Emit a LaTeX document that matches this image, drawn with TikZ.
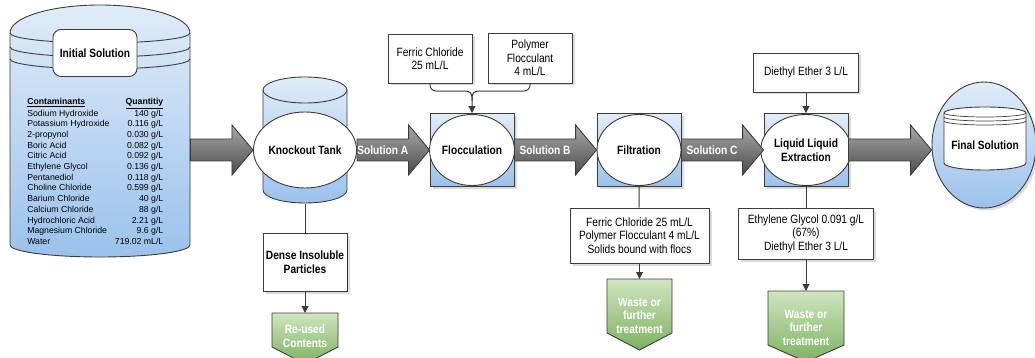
\documentclass[tikz,border=0pt]{standalone}
\usepackage{fontspec}
\setmainfont{Liberation Sans}
\newfontfamily\narrowfont[FakeStretch=0.85]{Liberation Sans}
\usetikzlibrary{arrows.meta,shapes.geometric,shadows,calc,positioning}

\definecolor{edge}{RGB}{60,60,60}
\definecolor{bluetop}{RGB}{224,236,249}
\definecolor{bluebot}{RGB}{155,194,236}
\definecolor{greentop}{RGB}{208,229,192}
\definecolor{greenbot}{RGB}{124,178,96}
\definecolor{arrowtop}{RGB}{168,168,168}
\definecolor{arrowbot}{RGB}{76,76,76}

% grey block arrow between two nodes
\newcommand{\flowarrow}[3]{%
  \draw[flow] let \p1=(#1.east), \p2=(#2.west) in
    (\x1,\y1+11pt) -- (\x2-21pt,\y1+11pt) -- (\x2-21pt,\y1+25pt) -- (\x2,\y1)
    -- (\x2-21pt,\y1-25pt) -- (\x2-21pt,\y1-11pt) -- (\x1,\y1-11pt) -- cycle
    node[flowlabel] at ({(\x1+\x2)/2-10.5pt},\y1) {#3};
}
% green outlet: name, x, top, half width, body height, text
\newcommand{\outlet}[6]{%
  \draw[waste] (#2-#4,#3) -- (#2+#4,#3) -- (#2+#4,#3+#5) -- (#2,#3+#5+17)
    -- (#2-#4,#3+#5) -- cycle;
  \coordinate (#1) at (#2,#3);
  \node[wastetext] at (#2,#3+#5*0.68) {#6};
}

\begin{document}
\begin{tikzpicture}[x=1pt,y=-1pt,>={Triangle[length=7pt,width=7pt]},semithick]
  \tikzstyle{lbl}=[font=\narrowfont\fontsize{12}{13.5}\selectfont,align=center]
  \tikzstyle{lblb}=[font=\narrowfont\bfseries\fontsize{12}{13.5}\selectfont,align=center]
  \tikzstyle{shade drop}=[drop shadow={shadow xshift=2.5pt,shadow yshift=-2.5pt,fill=black!28}]
  \tikzstyle{box}=[lbl,draw=edge,fill=white,line width=0.9pt,inner sep=2pt,shade drop]
  \tikzstyle{proc}=[draw=edge,line width=0.9pt,top color=bluetop,bottom color=bluebot,
                    minimum width=84,minimum height=73,inner sep=0,shade drop]
  \tikzstyle{core}=[lblb,ellipse,draw=edge,fill=white,line width=0.9pt,
                    minimum width=84,minimum height=71,inner sep=0]
  \tikzstyle{tank}=[draw=edge,line width=0.9pt,top color=bluetop,bottom color=bluebot]
  \tikzstyle{conn}=[draw=edge,line width=1pt]
  \tikzstyle{flow}=[draw=edge,line width=0.9pt,top color=arrowtop,bottom color=arrowbot]
  \tikzstyle{flowlabel}=[lblb,text=white]
  \tikzstyle{waste}=[draw=edge,line width=0.9pt,top color=greentop,bottom color=greenbot]
  \tikzstyle{wastetext}=[lblb,text=white]
\useasboundingbox (0,0) rectangle (1035,358);

% initial solution tank
\draw[tank] (10,33) -- (10,245) arc(180:360:90pt and 12pt) -- (190,33)
  arc(0:180:90pt and 28pt) -- cycle;
\foreach \r in {33,47,59}
  \draw[edge,line width=0.9pt] (10,\r) arc(180:360:90pt and 10pt);
\node[lblb,draw=edge,fill=white,line width=0.9pt,rounded corners=8,
      minimum width=84,minimum height=47] (initlbl) at (95,53) {Initial Solution};
\node[anchor=north west,inner sep=0,font=\fontsize{8.7}{10.7}\selectfont] (tbl) at (27,97)
  {\begin{tabular*}{136pt}{@{}l@{\extracolsep{\fill}}r@{}}
   \textbf{\underline{Contaminants}} & \textbf{\underline{Quantitiy}}\\
   Sodium Hydroxide & 140 g/L\\
   Potassium Hydroxide & 0.116 g/L\\
   2-propynol & 0.030 g/L\\
   Boric Acid & 0.082 g/L\\
   Citric Acid & 0.092 g/L\\
   Ethylene Glycol & 0.136 g/L\\
   Pentanediol & 0.118 g/L\\
   Choline Chloride & 0.599 g/L\\
   Barium Chloride & 40 g/L\\
   Calcium Chloride & 88 g/L\\
   Hydrochloric Acid & 2.21 g/L\\
   Magnesium Chloride & 9.6 g/L\\
   Water & 719.02 mL/L
   \end{tabular*}};
\node[inner sep=0,minimum width=180] (init) at (100,150) {};

% knockout tank
\draw[tank] (263,90) -- (263,190) arc(180:360:42pt and 13pt) -- (347,90)
  arc(0:180:42pt and 13pt) -- cycle;
\draw[edge,line width=0.9pt] (263,90) arc(180:360:42pt and 13pt);
\node[core,minimum height=76] (ko) at (305,150) {Knockout Tank};
\node[inner sep=0] (kobase) at (305,203) {};
\node[box,lblb,minimum width=84,minimum height=58] (dense) at (305,262) {Dense Insoluble\\Particles};
\draw[conn] (kobase) -- (dense);
\outlet{reuse}{305}{313}{33}{34}{Re-used\\Contents}
\draw[conn,->] (dense) -- (reuse);

% flocculation
\node[proc] (floc) at (472,150) {};
\node[core] at (floc) {Flocculation};
\node[box,minimum width=84,minimum height=49] (fecl) at (430,58.5) {Ferric Chloride\\25 mL/L};
\node[box,minimum width=84,minimum height=50] (poly) at (530,58) {Polymer\\Flocculant\\4 mL/L};
\draw[conn,->,rounded corners=6] (fecl.south) |- ($(floc.north)+(0,-22)$) -- (floc.north);
\draw[conn,rounded corners=6] (poly.south) |- ($(floc.north)+(0,-22)$) -- ($(floc.north)+(0,-12)$);

% filtration
\node[proc] (filt) at (639,150) {};
\node[core] at (filt) {Filtration};
\node[box,minimum width=139,minimum height=55] (flocs) at (639.5,235.5)
  {Ferric Chloride 25 mL/L\\Polymer Flocculant 4 mL/L\\Solids bound with flocs};
\draw[conn] (filt.south) -- (flocs);
\outlet{w1}{639.5}{279}{32.5}{54}{Waste or\\further\\treatment}
\draw[conn,->] (flocs) -- (w1);

% liquid liquid extraction
\node[proc] (lle) at (806,150) {};
\node[core] at (lle) {Liquid Liquid\\Extraction};
\node[box,minimum width=105,minimum height=39] (ether) at (806,72.5) {Diethyl Ether 3 L/L};
\draw[conn,->] (ether) -- (lle);
\node[box,minimum width=135,minimum height=51] (eg) at (806,233.5)
  {Ethylene Glycol 0.091 g/L\\(67\%)\\Diethyl Ether 3 L/L};
\draw[conn] (lle.south) -- (eg);
\outlet{w2}{806}{291}{38}{54}{Waste or\\further\\treatment}
\draw[conn,->] (eg) -- (w2);

% final solution
\node[ellipse,draw=edge,line width=0.9pt,top color=bluetop,bottom color=bluebot,
      minimum width=104,minimum height=126,inner sep=0,shade drop] (fin) at (984,145) {};
\draw[edge,fill=white,line width=0.9pt] (944,113) -- (944,163) arc(180:360:41pt and 7pt)
  -- (1026,113) arc(0:180:41pt and 6pt) -- cycle;
\foreach \r in {113,117,121}
  \draw[edge,line width=0.7pt] (944,\r) arc(180:360:41pt and 4pt);
\node[lblb] (finlbl) at (985,145) {Final Solution};

% main flow
\flowarrow{init}{ko}{}
\flowarrow{ko}{floc}{Solution A}
\flowarrow{floc}{filt}{Solution B}
\flowarrow{filt}{lle}{Solution C}
\flowarrow{lle}{fin}{}

\end{tikzpicture}
\end{document}
